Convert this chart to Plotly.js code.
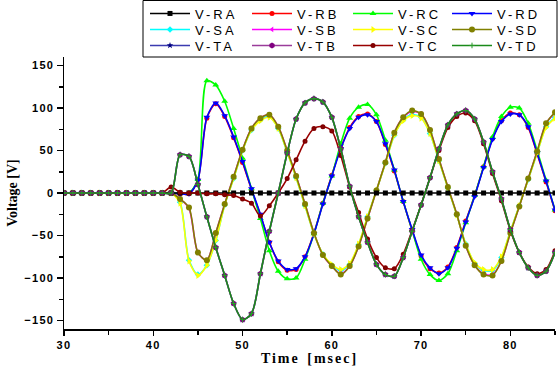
<!DOCTYPE html>
<html>
<head>
<meta charset="utf-8">
<script src="https://cdn.plot.ly/plotly-3.0.1.min.js"></script>
<style>
html, body { margin: 0; padding: 0; background: #fff; }
#chart { width: 558px; height: 371px; }
#chart .infolayer text.legendtext { letter-spacing: 3px !important; }
.xtick text, .ytick text { letter-spacing: 1.3px; }
.g-xtitle text { letter-spacing: 2px; word-spacing: 2px; }
</style>
</head>
<body>
<div id="chart"></div>
<script>
// time in msec
const time = [30,31,32,33,34,35,36,37,38,39,40,41,42,43,44,45,46,47,48,49,50,51,52,53,54,55,56,57,58,59,60,61,62,63,64,65,66,67,68,69,70,71,72,73,74,75,76,77,78,79,80,81,82,83,84,85];

const vRA = [0,0,0,0,0,0,0,0,0,0,0,0,0,0,0,0,0,0,0,0,0,0,0,0,0,0,0,0,0,0,0,0,0,0,0,0,0,0,0,0,0,0,0,0,0,0,0,0,0,0,0,0,0,0,0,0];
const vRB = [0,0,0,0,0,0,0,0,0,0,0,0,0,-1,-1,16,88,105,90,65,36,4,-26,-58,-81,-91,-90,-75,-47,-12,21,53,77,90,93,84,57,26,-10,-44,-74,-89,-94,-87,-64,-33,-3,31,64,85,94,92,77,46,13,-21];
const vRC = [0,0,0,0,0,0,0,0,0,0,0,0,0,0,0,16,132,127,108,76,41,5,-30,-68,-92,-101,-100,-78,-48,-12,20,58,88,101,104,92,62,27,-10,-44,-78,-96,-103,-95,-68,-35,-3,31,66,90,101,100,82,50,15,-20];
const vRD = [0,0,0,0,0,0,0,0,0,0,0,0,0,-1,-1,15,89,106,91,66,37,5,-25,-58,-80,-90,-89,-75,-48,-13,20,52,76,89,92,84,58,27,-10,-43,-73,-88,-95,-88,-65,-34,-4,30,63,84,93,92,78,47,14,-20];
const vSA = [0,0,0,0,0,0,0,0,0,0,0,0,0,-11,-79,-96,-85,-56,-14,17,50,74,86,90,76,48,18,-15,-48,-72,-85,-91,-84,-61,-28,3,35,68,86,92,89,70,38,6,-26,-60,-83,-91,-91,-76,-45,-15,16,47,78,89];
const vSB = [0,0,0,0,0,0,0,0,0,0,0,0,0,-7,-18,-70,-79,-47,-13,19,51,76,88,92,78,50,20,-13,-47,-73,-86,-95,-86,-63,-30,3,36,71,89,96,93,74,40,7,-25,-62,-85,-95,-96,-80,-47,-16,17,49,82,94];
const vSC = [0,0,0,0,0,0,0,0,0,0,0,0,0,-12,-80,-97,-85,-56,-14,17,50,74,85,89,76,48,18,-15,-48,-72,-84,-90,-83,-60,-28,3,35,68,85,91,88,70,38,6,-26,-60,-82,-90,-90,-75,-45,-15,16,47,77,88];
const vSD = [0,0,0,0,0,0,0,0,0,0,0,0,0,-7,-17,-70,-79,-47,-13,19,51,76,88,92,78,50,20,-13,-47,-73,-86,-96,-86,-63,-30,3,36,71,89,97,93,74,40,7,-25,-62,-85,-96,-97,-80,-47,-16,17,49,82,95];
const vTA = [0,0,0,0,0,0,0,0,0,0,0,0,0,45,43,10,-28,-64,-97,-130,-149,-142,-95,-45,0,47,87,106,111,107,89,52,8,-28,-58,-84,-96,-98,-76,-45,-14,18,52,80,93,97,87,60,25,-7,-43,-70,-88,-97,-92,-70];
const vTB = [0,0,0,0,0,0,0,0,0,0,0,0,0,45,43,10,-28,-64,-97,-130,-149,-142,-95,-45,0,47,87,106,111,107,89,52,8,-28,-58,-84,-96,-98,-76,-45,-14,18,52,80,93,97,87,60,25,-7,-43,-70,-88,-97,-92,-70];
const vTC = [0,0,0,0,0,0,0,0,0,0,0,0,7,1,0,0,-1,-1,-2,-3,-7,-12,-27,-15,0,17,39,61,76,78,73,44,7,-23,-54,-76,-88,-89,-72,-44,-14,18,50,77,90,94,85,58,23,-9,-44,-70,-87,-95,-90,-68];
const vTD = [0,0,0,0,0,0,0,0,0,0,0,0,0,45,43,10,-28,-64,-97,-130,-149,-142,-95,-45,0,47,87,106,111,107,89,52,8,-28,-58,-84,-96,-98,-76,-45,-14,18,52,80,93,97,87,60,25,-7,-43,-70,-88,-97,-92,-70];

const seriesNames = ['V-RA','V-RB','V-RC','V-RD','V-SA','V-SB','V-SC','V-SD','V-TA','V-TB','V-TC','V-TD'];
const seriesValues = [vRA,vRB,vRC,vRD,vSA,vSB,vSC,vSD,vTA,vTB,vTC,vTD];
const lineColors = ['#000000','#ff0000','#00ff00','#0000ff','#00ffff','#ff00ff','#ffff00','#808000','#3b3bb0','#9a3c9a','#990000','#1a8a1a'];
const markerColors = ['#000000','#ff0000','#00ff00','#0000ff','#00ffff','#ff00ff','#ffff00','#808000','#000080','#800080','#800000','#2a9a2a'];
const markerSymbols = ['square','circle','triangle-up','triangle-down','diamond','triangle-left','triangle-right','circle','star','hexagon','circle-dot','cross-thin'];
const markerSizes = [5,5,6,6,5,5,6,6,5,6,5,4];
// drawing order (later = on top)
const drawOrder = ['V-TA','V-SA','V-SB','V-RB','V-RC','V-RD','V-SC','V-SD','V-RA','V-TC','V-TB','V-TD'];

// legend grid: 4 columns x 3 rows, each entry its own legend box
const W = 558, H = 371, ML = 64, MR = 3, MT = 57, MB = 42;
const PW = W - ML - MR, PH = H - MT - MB;
const colLeft = [145, 247, 348, 447];
const rowTop = [-1.5, 14.5, 30.5];

const legendKeys = seriesNames.map((n, i) => i === 0 ? 'legend' : 'legend' + (i + 1));

const traces = drawOrder.map(name => {
  const i = seriesNames.indexOf(name);
  const thin = markerSymbols[i] === 'cross-thin';
  return {
    type: 'scatter',
    mode: 'lines+markers',
    name: name,
    legend: legendKeys[i],
    x: time,
    y: seriesValues[i],
    line: { color: lineColors[i], width: 1.6, shape: 'spline', smoothing: 0.8 },
    marker: {
      symbol: markerSymbols[i],
      size: markerSizes[i],
      color: markerColors[i],
      line: thin ? { color: markerColors[i], width: 1 } : { width: 0 }
    }
  };
});

const tickFont = { family: 'Liberation Sans, Arial, sans-serif', size: 11, color: '#000', weight: 'bold' };
const titleFont = { family: 'Liberation Serif, Times New Roman, serif', size: 14, color: '#000', weight: 'bold' };

const layout = {
  width: W,
  height: H,
  margin: { l: ML, r: MR, t: MT, b: MB, autoexpand: false },
  paper_bgcolor: '#fff',
  plot_bgcolor: '#fff',
  showlegend: true,
  shapes: [{
    type: 'rect', xref: 'paper', yref: 'paper', layer: 'above',
    x0: (143 - ML) / PW, x1: (557 - ML) / PW,
    y0: (H - MB - 57) / PH, y1: (H - MB - 0.5) / PH,
    line: { color: '#000', width: 1 }, fillcolor: 'rgba(0,0,0,0)'
  }],
  xaxis: {
    range: [30, 85],
    tick0: 30, dtick: 10,
    ticks: 'outside', ticklen: 5, tickwidth: 1.5, tickcolor: '#000',
    minor: { ticks: 'outside', dtick: 5, ticklen: 4, tickwidth: 1.5, tickcolor: '#000' },
    showline: true, linecolor: '#000', linewidth: 1.5,
    showgrid: false, zeroline: false,
    tickfont: tickFont,
    title: { text: 'Time [msec]', font: titleFont, standoff: 3 }
  },
  yaxis: {
    range: [-160, 160],
    tick0: 0, dtick: 50,
    ticks: 'outside', ticklen: 6, tickwidth: 1.5, tickcolor: '#000',
    minor: { ticks: 'outside', dtick: 25, ticklen: 4, tickwidth: 1.5, tickcolor: '#000' },
    showline: true, linecolor: '#000', linewidth: 1.5,
    showgrid: false, zeroline: false,
    tickfont: tickFont,
    title: { text: 'Voltage [V]', font: titleFont, standoff: 3 }
  },
  xaxis2: {
    overlaying: 'x', side: 'top', anchor: 'y',
    range: [30, 85], tick0: 30, dtick: 10,
    ticks: 'inside', ticklen: 5, tickwidth: 1.5, tickcolor: '#000',
    minor: { ticks: 'inside', dtick: 5, ticklen: 4, tickwidth: 1.5, tickcolor: '#000' },
    showline: true, linecolor: '#000', linewidth: 1.5,
    showticklabels: false, showgrid: false, zeroline: false
  },
  yaxis2: {
    overlaying: 'y', side: 'right', anchor: 'x',
    range: [-160, 160], tick0: 0, dtick: 50,
    ticks: 'inside', ticklen: 5, tickwidth: 1.5, tickcolor: '#000',
    minor: { ticks: 'inside', dtick: 25, ticklen: 4, tickwidth: 1.5, tickcolor: '#000' },
    showline: true, linecolor: '#000', linewidth: 1.5,
    showticklabels: false, showgrid: false, zeroline: false
  }
};

seriesNames.forEach((n, i) => {
  const col = i % 4, row = Math.floor(i / 4);
  layout[legendKeys[i]] = {
    x: (colLeft[col] - ML) / PW, xanchor: 'left',
    y: (H - MB - rowTop[row]) / PH, yanchor: 'top',
    bgcolor: 'rgba(0,0,0,0)', borderwidth: 0,
    itemwidth: 40,
    font: { family: 'Liberation Sans, Arial, sans-serif', size: 13, color: '#000' }
  };
});

function spaceLegend(gd) {
  const infolayer = gd.querySelector('.infolayer');
  if (!infolayer) return;
  infolayer.querySelectorAll('[clip-path]').forEach(el => el.removeAttribute('clip-path'));
  infolayer.querySelectorAll('text').forEach(el => {
    if (/^V-/.test(el.textContent)) {
      el.setAttribute('letter-spacing', '3');
      el.style.setProperty('letter-spacing', '3px', 'important');
    }
  });
}

Plotly.newPlot('chart', traces, layout, { displayModeBar: false, staticPlot: true }).then(gd => {
  spaceLegend(gd);
  gd.on('plotly_afterplot', () => spaceLegend(gd));
});
</script>
</body>
</html>
